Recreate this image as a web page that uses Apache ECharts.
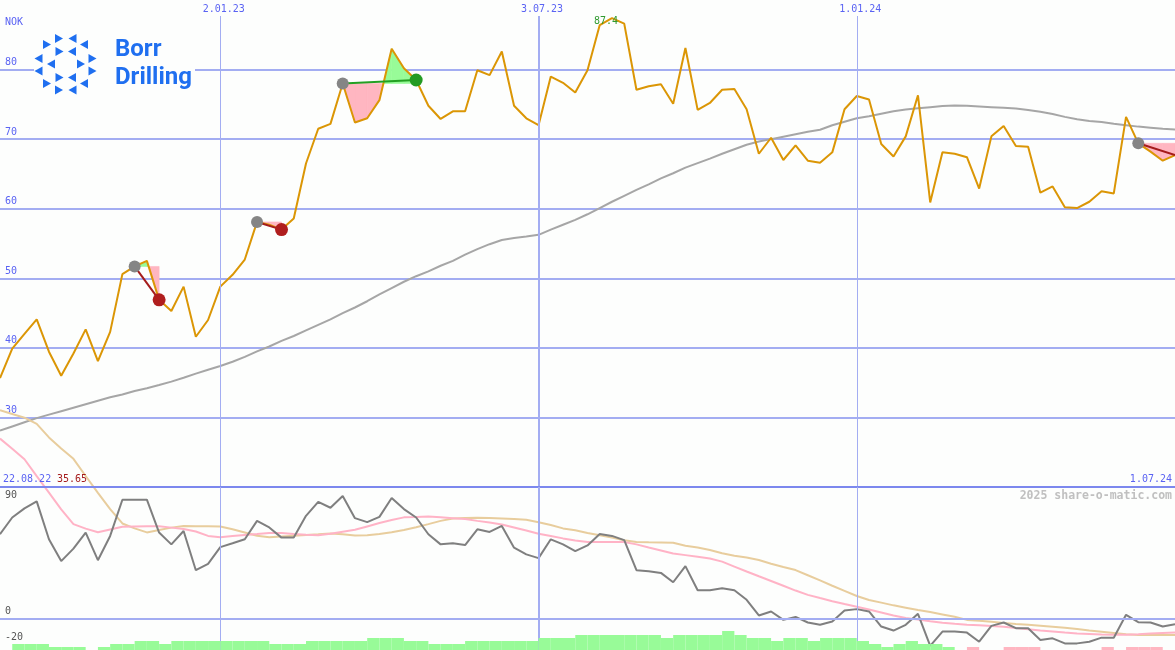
<!DOCTYPE html>
<html><head><meta charset="utf-8">
<script src="https://cdn.jsdelivr.net/npm/echarts@6/dist/echarts.min.js"></script>
<style>html,body{margin:0;padding:0;background:#fdfefd}#c{width:1175px;height:650px}</style>
</head><body><div id="c"></div>
<script>
// ---------- data ----------
const startDate = [2022, 7, 29];   // first weekly point (UTC y, m0, d)
const weekCount = 97;
const price = [35.65,39.9,42.0,44.1,39.45,36.0,39.2,42.66,38.1,42.3,
  50.6,51.7,52.5,46.9,45.3,48.8,41.6,44.0,48.8,50.5,
  52.7,58.1,57.7,57.0,58.6,66.5,71.5,72.2,78.0,72.4,
  73.0,75.6,83.0,80.2,78.5,74.8,72.9,74.0,74.0,79.9,
  79.2,82.6,74.8,73.0,72.0,79.0,78.1,76.7,79.9,86.4,
  87.4,86.6,77.1,77.6,77.9,75.1,83.1,74.2,75.2,77.1,
  77.2,74.3,67.9,70.2,67.0,69.1,66.9,66.6,68.1,74.3,
  76.2,75.7,69.3,67.5,70.4,76.3,60.9,68.1,67.9,67.4,
  62.9,70.4,71.9,69.0,68.9,62.3,63.2,60.2,60.1,61.0,
  62.5,62.2,73.2,69.4,68.2,66.9,67.7];
const movingAvg = [28.1,28.7,29.3,29.9,30.4,30.9,31.4,31.9,32.4,32.9,
  33.3,33.8,34.2,34.65,35.15,35.7,36.3,36.85,37.4,38.0,
  38.7,39.5,40.2,41.0,41.7,42.5,43.3,44.1,45.0,45.8,
  46.7,47.7,48.6,49.5,50.3,51.0,51.8,52.5,53.4,54.2,
  54.9,55.5,55.8,56.0,56.25,57.0,57.7,58.4,59.2,60.1,
  61.0,61.85,62.7,63.5,64.35,65.1,65.9,66.55,67.2,67.9,
  68.55,69.2,69.65,70.0,70.35,70.7,71.05,71.35,72.0,72.5,
  73.0,73.3,73.65,74.0,74.25,74.45,74.6,74.75,74.85,74.8,
  74.7,74.6,74.5,74.4,74.2,73.95,73.6,73.2,72.85,72.6,
  72.45,72.2,72.0,71.8,71.65,71.5,71.4];
const oscillator = [65.2,78.1,85.1,90.5,61.3,44.5,54.1,66.5,45.2,63.9,
  91.8,91.8,91.8,66.5,57.4,67.7,37.5,42.4,55.3,58.2,
  61.3,75.5,70.4,62.6,62.6,79.4,90.2,85.6,94.6,77.6,
  74.5,78.6,93.1,84.6,78.1,65.2,57.4,58.2,56.9,69.0,
  67.0,71.6,54.8,49.7,46.8,61.3,57.4,52.2,56.6,65.4,
  63.9,60.7,37.5,36.7,35.4,28.2,40.6,22.0,22.0,23.5,
  22.0,14.7,2.6,5.7,-0.8,1.5,-2.8,-4.6,-2.1,6.5,
  7.5,5.7,-5.9,-9.0,-4.6,3.9,-20.9,-9.8,-9.8,-10.6,
  -17.6,-5.4,-2.8,-7.2,-7.2,-16.3,-15.0,-18.9,-18.9,-17.6,
  -14.5,-14.5,3.1,-2.6,-2.8,-5.9,-4.1];
const oscFast = [138.9,131.0,123.0,110.0,97.3,84.4,73.0,69.5,66.7,68.9,
  70.9,71.2,71.4,71.4,70.3,69.2,67.3,63.9,62.9,63.8,
  64.7,65.4,66.2,66.2,65.4,64.8,64.4,65.6,67.1,68.6,
  71.2,73.8,76.2,78.2,78.5,78.9,78.3,77.6,76.9,75.5,
  74.2,72.7,70.4,68.1,65.6,63.8,62.0,60.4,59.2,59.2,
  59.2,59.2,57.4,55.0,52.7,50.4,49.1,47.8,46.5,44.1,
  40.3,36.5,32.8,29.2,25.5,21.8,18.5,16.0,13.6,11.4,
  9.3,7.2,4.9,2.6,0.7,-0.5,-1.8,-3.0,-3.8,-4.5,
  -5.0,-5.6,-6.1,-7.0,-8.0,-8.9,-9.7,-10.5,-11.2,-11.6,
  -12.0,-12.3,-12.2,-11.8,-11.3,-10.9,-10.6];
const oscSlow = [160.7,157.9,155.0,150.2,139.8,131.3,123.3,110.1,97.1,84.5,
  73.5,69.7,66.6,68.4,70.3,71.6,71.4,71.3,71.1,69.0,
  66.6,64.0,62.9,63.5,64.1,64.7,65.2,65.8,65.1,64.2,
  64.4,65.3,66.7,68.4,70.6,73.0,75.5,77.4,77.7,78.0,
  77.8,77.4,76.9,76.3,74.5,72.3,69.7,68.2,66.2,64.4,
  62.6,60.6,59.2,59.0,58.9,58.7,56.3,55.0,53.0,50.5,
  48.7,47.3,45.4,42.5,40.0,37.6,33.6,29.6,25.5,21.6,
  17.6,14.5,12.5,10.4,8.6,6.8,5.2,3.4,1.6,-0.8,
  -1.5,-2.3,-3.1,-3.9,-4.6,-5.3,-6.1,-6.9,-7.8,-8.9,
  -9.9,-10.9,-11.9,-12.4,-12.4,-12.4,-12.4];
const histogram = [0,6,6,6,3,3,3,0,3,6,
  6,9,9,6,9,9,9,9,9,9,
  9,9,6,6,6,9,9,9,9,9,
  12,12,12,9,9,6,6,6,9,9,
  9,9,9,9,12,12,12,15,15,15,
  15,15,15,15,12,15,15,15,15,19,
  15,12,12,9,12,12,9,12,12,12,
  9,6,3,6,9,6,6,3,0,-3,
  0,0,-3,-3,-3,0,0,0,0,0,
  -3,0,-3,-3,-3,0,0];
const sigStart = [11, 21, 28, 93];
const sigEnd   = [13, 23, 34, 96];
const markDates  = [[2023,0,2],[2023,6,3],[2024,0,1]];
const markLabels = ['2.01.23','3.07.23','1.01.24'];
const markWidths = [1, 2, 1];
const priceTicks = [30,40,50,60,70,80];
const oscTicks = [90, 0, -20];
const firstDateLabel = '22.08.22', firstPriceLabel = '35.65', lastDateLabel = '1.07.24';
const maxLabel = '87.4', unitLabel = 'NOK', credit = '2025 share-o-matic.com';

// ---------- setup ----------
const DAY = 86400000;
const t0 = Date.UTC(startDate[0], startDate[1], startDate[2]);
const dates = Array.from({length: weekCount}, (_, i) => t0 + i * 7 * DAY);
const tMin = dates[0], tMax = dates[dates.length - 1];
const markTs = markDates.map(d => Date.UTC(d[0], d[1], d[2]));
const MONO = 'DejaVu Sans Mono';
const BLUE = '#5a63f3', GRID = '#a3adf2', SEP = '#7c88ee';
const PINK = '#ffb6c1', GREEN = '#98fb98';
const maxIdx = price.indexOf(Math.max(...price));

const chart = echarts.init(document.getElementById('c'), null, {renderer: 'canvas'});

function shadeItem(params, api) {
  const s = sigStart[params.dataIndex], e = sigEnd[params.dataIndex], L = price[s];
  const P = (t, v) => api.coord([t, v]);
  const poly = (pts, up) => ({type: 'polygon', shape: {points: pts},
    style: {fill: up ? GREEN : PINK, stroke: up ? GREEN : PINK, lineWidth: 0.6}});
  const kids = [];
  for (let k = s; k < e; k++) {
    const d0 = price[k] - L, d1 = price[k + 1] - L, ta = dates[k], tb = dates[k + 1];
    if (d0 * d1 < 0) {
      const tc = ta + d0 / (d0 - d1) * (tb - ta);
      kids.push(poly([P(ta, L), P(ta, price[k]), P(tc, L)], d0 > 0));
      kids.push(poly([P(tc, L), P(tb, price[k + 1]), P(tb, L)], d1 > 0));
    } else {
      kids.push(poly([P(ta, L), P(ta, price[k]), P(tb, price[k + 1]), P(tb, L)], d0 + d1 > 0));
    }
  }
  return {type: 'group', children: kids};
}
function signalItem(params, api) {
  const s = sigStart[params.dataIndex], e = sigEnd[params.dataIndex];
  const a = api.coord([dates[s], price[s]]), b = api.coord([dates[e], price[e]]);
  const win = price[e] > price[s], open = e === price.length - 1;
  const kids = [{type: 'line', shape: {x1: a[0], y1: a[1], x2: b[0], y2: b[1]},
    style: {stroke: win ? '#23a023' : '#a51c1c', lineWidth: 2}}];
  kids.push({type: 'circle', shape: {cx: a[0], cy: a[1], r: 6}, style: {fill: '#858585'}});
  if (!open) kids.push({type: 'circle', shape: {cx: b[0], cy: b[1], r: 6.5}, style: {fill: win ? '#239b23' : '#b01e1e'}});
  return {type: 'group', children: kids};
}
function barItem(params, api) {
  const i = params.dataIndex, v = histogram[i];
  if (!v || i >= dates.length - 1) return;
  const p0 = api.coord([dates[i], 0]), p1 = api.coord([dates[i + 1], Math.abs(v)]);
  return {type: 'rect', shape: {x: p0[0], y: p1[1], width: p1[0] - p0[0], height: p0[1] - p1[1]},
    style: {fill: v > 0 ? GREEN : PINK}};
}

// logo triangles: [cx, cy, dir] dir 1 = pointing right, -1 = pointing left
const logoTri = [[59,38.5,1],[72.5,38.5,-1],[47,44.5,1],[84,44.5,-1],[59.5,51.5,1],[72,51.5,-1],
  [38.5,58.5,-1],[92.5,58.5,1],[51,64,-1],[81,64,1],[38.5,71,-1],[92.5,71,1],
  [59.5,77.5,1],[72,77.5,-1],[47,83.5,1],[84,83.5,-1],[59,90,1],[72.5,90,-1]];
const LOGO = '#1f6ff0';
const graphics = [
  {type: 'rect', z: 100, shape: {x: 34, y: 30, width: 161, height: 68}, style: {fill: '#fdfefd'}},
  ...logoTri.map(([cx, cy, d]) => ({type: 'polygon', z: 101,
    shape: {points: [[cx - 4 * d, cy - 4.6], [cx + 4 * d, cy], [cx - 4 * d, cy + 4.6]]}, style: {fill: LOGO}})),
  {type: 'text', z: 101, x: 115, y: 50, style: {text: 'Borr', fill: LOGO, font: 'bold 24px Roboto', verticalAlign: 'middle'}},
  {type: 'text', z: 101, x: 115, y: 78, style: {text: 'Drilling', fill: LOGO, font: 'bold 24px Roboto', verticalAlign: 'middle'}},
  {type: 'text', z: 101, x: 5, y: 22, style: {text: unitLabel, fill: BLUE, font: '10px "' + MONO + '"', verticalAlign: 'middle'}},
  {type: 'text', z: 101, x: 3, y: 479, style: {text: firstDateLabel, fill: BLUE, font: '10px "' + MONO + '"', verticalAlign: 'middle'}},
  {type: 'text', z: 101, x: 57, y: 479, style: {text: firstPriceLabel, fill: '#a51c1c', font: '10px "' + MONO + '"', verticalAlign: 'middle'}},
  {type: 'text', z: 101, x: 1172, y: 479, style: {text: lastDateLabel, fill: BLUE, font: '10px "' + MONO + '"', align: 'right', verticalAlign: 'middle'}},
  {type: 'text', z: 101, x: 1172, y: 496, style: {text: credit, fill: '#c0c0c0', font: 'bold 11.5px "' + MONO + '"', align: 'right', verticalAlign: 'middle'}}
];

const option = {
  animation: false,
  backgroundColor: '#fdfefd',
  grid: [
    {left: 0, right: 0, top: 0, height: 487},
    {left: 0, right: 0, top: 487, bottom: 0}
  ],
  xAxis: [
    {type: 'time', gridIndex: 0, min: tMin, max: tMax, show: false},
    {type: 'time', gridIndex: 1, min: tMin, max: tMax, show: false}
  ],
  yAxis: [
    {type: 'value', gridIndex: 0, min: 20, max: 90, interval: 10,
     axisLine: {show: false}, axisTick: {show: false},
     splitLine: {show: true, showMinLine: false, showMaxLine: false, lineStyle: {color: GRID, width: 2}},
     axisLabel: {inside: true, margin: 5, verticalAlign: 'bottom', padding: [0, 0, 2, 0],
       color: BLUE, fontFamily: MONO, fontSize: 10,
       formatter: v => priceTicks.includes(v) ? String(v) : ''}},
    {type: 'value', gridIndex: 1, min: -24, max: 101.6, interval: 2,
     axisLine: {show: false}, axisTick: {show: false}, splitLine: {show: false},
     axisLabel: {inside: true, margin: 5, verticalAlign: 'bottom', padding: [0, 0, 2, 0],
       color: '#555', fontFamily: MONO, fontSize: 10,
       formatter: v => oscTicks.includes(v) ? String(v) : ''}},
    {type: 'value', gridIndex: 1, min: 0, max: 163, show: false}
  ],
  series: [
    {type: 'custom', name: 'shade', xAxisIndex: 0, yAxisIndex: 0, z: 2, silent: true,
     data: sigStart.map(s => [dates[s], price[s]]), renderItem: shadeItem},
    {type: 'line', name: 'ma', xAxisIndex: 0, yAxisIndex: 0, z: 3, silent: true,
     data: dates.map((t, i) => [t, movingAvg[i]]), symbol: 'none',
     lineStyle: {color: '#a6a6a6', width: 2}},
    {type: 'line', name: 'price', xAxisIndex: 0, yAxisIndex: 0, z: 4, silent: true,
     data: dates.map((t, i) => [t, price[i]]), symbol: 'none',
     lineStyle: {color: '#db9605', width: 2},
     markPoint: {silent: true, symbol: 'rect', symbolSize: 1, itemStyle: {color: 'rgba(0,0,0,0)'},
       label: {show: true, position: 'inside', offset: [-6, 3], formatter: maxLabel,
         color: '#2f9a2f', fontFamily: MONO, fontSize: 10},
       data: [{coord: [dates[maxIdx], price[maxIdx]]}]},
     markLine: {silent: true, symbol: ['none', 'none'], animation: false,
       lineStyle: {color: GRID, width: 1, type: 'solid'},
       label: {show: true, position: 'end', distance: 2, formatter: p => p.name,
         color: BLUE, fontFamily: MONO, fontSize: 10, padding: [0, 0, 0, 7]},
       data: [
         ...markTs.map((t, i) => [
           {name: markLabels[i], coord: [t, 20], lineStyle: {color: GRID, width: markWidths[i], type: 'solid'}},
           {coord: [t, 87.7]}]),
         {yAxis: 20, label: {show: false}, lineStyle: {color: SEP, width: 2, type: 'solid'}}
       ]}},
    {type: 'custom', name: 'signals', xAxisIndex: 0, yAxisIndex: 0, z: 6, silent: true,
     data: sigStart.map(s => [dates[s], price[s]]), renderItem: signalItem},
    {type: 'line', name: 'slow', xAxisIndex: 1, yAxisIndex: 1, z: 3, silent: true, clip: false,
     data: dates.map((t, i) => [t, oscSlow[i]]), symbol: 'none',
     lineStyle: {color: '#e8cd9d', width: 2}},
    {type: 'line', name: 'fast', xAxisIndex: 1, yAxisIndex: 1, z: 3, silent: true, clip: false,
     data: dates.map((t, i) => [t, oscFast[i]]), symbol: 'none',
     lineStyle: {color: '#ffb3c6', width: 2}},
    {type: 'line', name: 'osc', xAxisIndex: 1, yAxisIndex: 1, z: 4, silent: true, clip: false,
     data: dates.map((t, i) => [t, oscillator[i]]), symbol: 'none',
     lineStyle: {color: '#7f7f7f', width: 2},
     markLine: {silent: true, symbol: ['none', 'none'], animation: false, label: {show: false},
       lineStyle: {color: GRID, width: 1, type: 'solid'},
       data: [
         ...markTs.map((t, i) => [
           {coord: [t, -24], lineStyle: {color: GRID, width: markWidths[i], type: 'solid'}},
           {coord: [t, 101.6]}]),
         {yAxis: 0, lineStyle: {color: GRID, width: 2, type: 'solid'}}
       ]}},
    {type: 'custom', name: 'hist', xAxisIndex: 1, yAxisIndex: 2, z: 5, silent: true,
     data: dates.map((t, i) => [t, Math.abs(histogram[i])]), renderItem: barItem}
  ],
  graphic: graphics
};
chart.setOption(option);
</script>
</body></html>
